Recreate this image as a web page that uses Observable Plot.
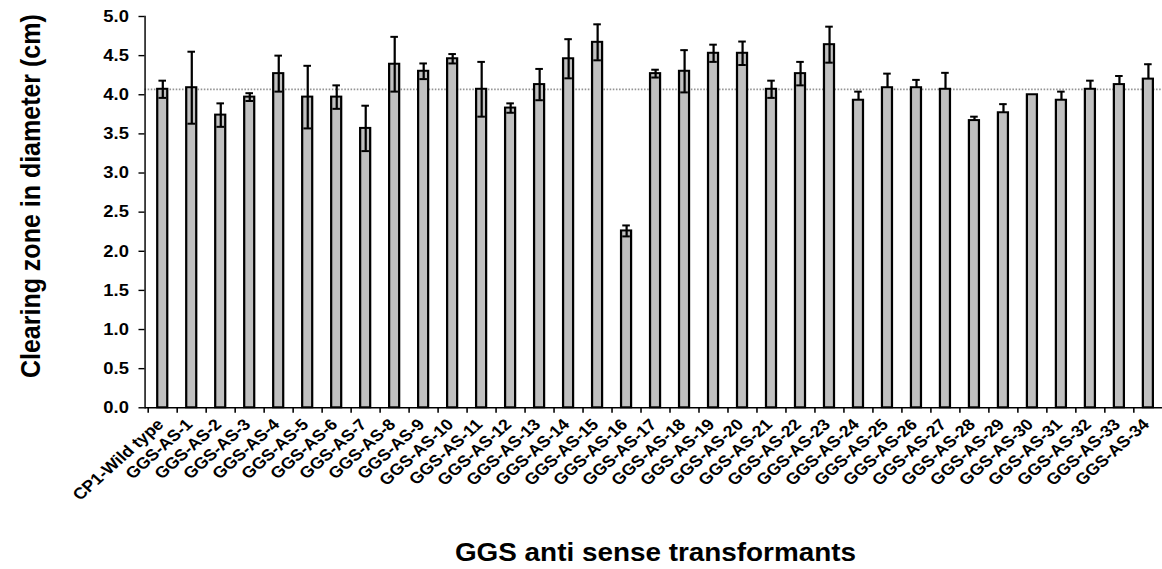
<!DOCTYPE html>
<html>
<head>
<meta charset="utf-8">
<script src="https://cdn.jsdelivr.net/npm/d3@7"></script>
<script src="https://cdn.jsdelivr.net/npm/@observablehq/plot@0.6"></script>
<style>
  html, body { margin: 0; padding: 0; background: #fff; overflow: hidden; }
  #chart { width: 1162px; height: 569px; overflow: hidden; }
  #chart svg { display: block; transform-origin: 0 0; }
</style>
</head>
<body>
<div id="chart"></div>
<script>
// Clearing-zone diameter (cm) of the wild type and the GGS anti-sense transformants
const categories = [
  "CP1-Wild type",
  "GGS-AS-1", "GGS-AS-2", "GGS-AS-3", "GGS-AS-4", "GGS-AS-5", "GGS-AS-6", "GGS-AS-7",
  "GGS-AS-8", "GGS-AS-9", "GGS-AS-10", "GGS-AS-11", "GGS-AS-12", "GGS-AS-13", "GGS-AS-14",
  "GGS-AS-15", "GGS-AS-16", "GGS-AS-17", "GGS-AS-18", "GGS-AS-19", "GGS-AS-20", "GGS-AS-21",
  "GGS-AS-22", "GGS-AS-23", "GGS-AS-24", "GGS-AS-25", "GGS-AS-26", "GGS-AS-27", "GGS-AS-28",
  "GGS-AS-29", "GGS-AS-30", "GGS-AS-31", "GGS-AS-32", "GGS-AS-33", "GGS-AS-34"
];
const means = [
  4.07,
  4.09, 3.74, 3.97, 4.27, 3.97, 3.97, 3.57,
  4.39, 4.30, 4.46, 4.07, 3.83, 4.13, 4.46,
  4.67, 2.26, 4.27, 4.30, 4.53, 4.53, 4.07,
  4.27, 4.64, 3.93, 4.09, 4.09, 4.07, 3.67,
  3.77, 4.00, 3.93, 4.07, 4.13, 4.20
];
// error bar above the mean
const errPlus = [
  0.11,
  0.46, 0.15, 0.05, 0.23, 0.40, 0.15, 0.29,
  0.35, 0.10, 0.06, 0.35, 0.06, 0.20, 0.25,
  0.23, 0.07, 0.05, 0.27, 0.11, 0.15, 0.11,
  0.15, 0.23, 0.11, 0.18, 0.10, 0.21, 0.05,
  0.11, 0.00, 0.11, 0.11, 0.11, 0.19
];
// error bar below the mean (later transformants were plotted plus-only)
const errMinus = [
  0.11,
  0.46, 0.15, 0.05, 0.23, 0.40, 0.15, 0.29,
  0.35, 0.10, 0.06, 0.35, 0.06, 0.20, 0.25,
  0.23, 0.07, 0.05, 0.27, 0.11, 0.15, 0.11,
  0.15, 0.23, 0.00, 0.00, 0.00, 0.00, 0.00,
  0.00, 0.00, 0.00, 0.00, 0.00, 0.00
];
const yTicks = [0, 0.5, 1, 1.5, 2, 2.5, 3, 3.5, 4, 4.5, 5];
const yLabel = "Clearing zone in diameter (cm)";
const xLabel = "GGS anti sense transformants";
const referenceLevel = means[0]; // wild-type level, drawn as a dotted guide

(function draw() {
  const rows = categories.map((name, i) => ({
    name,
    mean: means[i],
    hi: means[i] + errPlus[i],
    lo: means[i] - errMinus[i],
    hasLow: errMinus[i] > 0
  }));

  // The figure is laid out on a slightly narrower canvas and widened by STRETCH,
  // which gives the wide, heavy lettering of the original spreadsheet export.
  const STRETCH = 1.115;
  const H = 569;
  const W = 1162 / STRETCH;
  const frameLeft = 144.5 / STRETCH, frameRight = 1166.3 / STRETCH; // last band runs past the edge
  const frameTop = 16, frameBottom = 407.3;
  const font = "'Liberation Sans', Arial, Helvetica, sans-serif";
  const ink = { fill: "#000", fontWeight: "bold" };

  const chart = Plot.plot({
    width: W,
    height: H,
    marginLeft: frameLeft,
    marginTop: frameTop,
    marginBottom: H - frameBottom,
    marginRight: 0,
    style: { fontFamily: font, color: "#000", background: "#fff", overflow: "visible" },
    x: { domain: categories, range: [frameLeft, frameRight], paddingInner: 0.665, paddingOuter: 0.3325 },
    y: { domain: [0, 5], range: [frameBottom, frameTop] },
    marks: [
      // dotted wild-type guide
      Plot.ruleY([referenceLevel], { stroke: "#949494", strokeWidth: 1.7, strokeDasharray: "1.4,1.4" }),
      // bars
      Plot.barY(rows, { x: "name", y: "mean", fill: "#c0c0c0", stroke: "#000", strokeWidth: 2 }),
      // error bars
      Plot.ruleX(rows.filter(d => d.hi > d.lo), { x: "name", y1: "lo", y2: "hi", stroke: "#000", strokeWidth: 2 }),
      Plot.tickY(rows.filter(d => d.hi > d.mean), { x: "name", y: "hi", stroke: "#000", strokeWidth: 2, inset: 1.1 }),
      Plot.tickY(rows.filter(d => d.hasLow), { x: "name", y: "lo", stroke: "#000", strokeWidth: 2, inset: 1.1 }),
      // axis lines
      Plot.ruleY([0], { stroke: "#000", strokeWidth: 1.4 }),
      Plot.frame({ anchor: "left", stroke: "#000", strokeWidth: 1.3 }),
      // y axis ticks and labels
      Plot.axisY({ ticks: yTicks, tickFormat: () => "", tickSize: 5.4, label: null, strokeWidth: 1.4 }),
      Plot.text(yTicks, {
        y: d => d, text: d => d.toFixed(1), frameAnchor: "left", textAnchor: "end",
        lineAnchor: "middle", dx: -14.5, fontSize: 16.5, ...ink
      }),
      // x ticks between categories
      Plot.axisX({ tickSize: 5.4, tickFormat: () => "", dx: -(frameRight - frameLeft) / categories.length / 2, label: null, strokeWidth: 1.4 }),
      // rotated category labels
      Plot.text(categories, {
        x: d => d, text: d => d, frameAnchor: "bottom", rotate: -45, textAnchor: "end",
        lineAnchor: "middle", dx: -2, dy: 14, fontSize: 16, ...ink
      }),
      // axis titles
      Plot.text([yLabel], {
        text: d => d, frameAnchor: "left", rotate: -90, textAnchor: "middle", lineAnchor: "middle",
        dx: 27.8 - frameLeft, dy: -16, fontSize: 25, ...ink
      }),
      Plot.text([xLabel], {
        text: d => d, frameAnchor: "bottom", textAnchor: "middle", lineAnchor: "middle",
        dx: 1.5, dy: 145.5, fontSize: 25, ...ink
      })
    ]
  });

  chart.style.transform = `scaleX(${STRETCH})`;
  document.getElementById("chart").appendChild(chart);
})();
</script>
</body>
</html>
